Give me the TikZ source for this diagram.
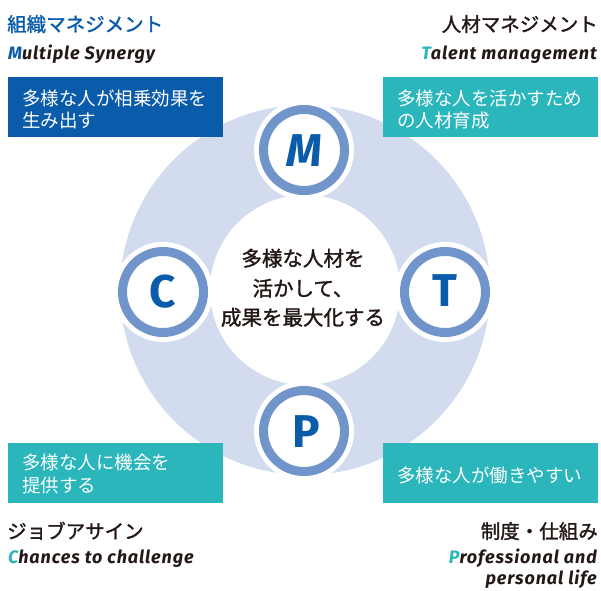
\documentclass[tikz,border=0pt]{standalone}
\usepackage{fontspec}
\setmainfont{Fira Sans}
\newfontfamily\jp{Noto Sans CJK JP}
\newfontfamily\jpm[FakeBold=1.5]{Noto Sans CJK JP}
\newfontfamily\en[LetterSpace=5]{Fira Sans}
\newfontfamily\lt{Fira Sans}
\definecolor{lav}{HTML}{D3DCEE}
\definecolor{ringc}{HTML}{7194CB}
\definecolor{dblue}{HTML}{0A5CAB}
\definecolor{tealc}{HTML}{2AB6BA}
\definecolor{ink}{HTML}{231815}
\begin{document}
\begin{tikzpicture}[x=1pt,y=-1pt,
  jpt/.style={font=\jpm\fontsize{19.5}{20}\selectfont, inner sep=0, text=ink},
  ent/.style={font=\en\bfseries\itshape\fontsize{18}{18}\selectfont, inner sep=0, text=ink},
  boxtxt/.style={font=\jp\fontsize{18.5}{19}\selectfont, inner sep=0, text=white, anchor=base west},
  ctr/.style={font=\jpm\fontsize{20.5}{21}\selectfont, inner sep=0, text=ink, anchor=base},
  halo/.style={circle, fill=white, minimum size=100pt, inner sep=0},
  ringnode/.style={circle, draw=ringc, line width=9pt, fill=white, minimum size=81pt, inner sep=0},
  letter/.style={font=\lt\bfseries\fontsize{46}{46}\selectfont, text=dblue, inner sep=0, anchor=base},
  bx/.style={inner sep=0, minimum width=215pt, minimum height=60pt, anchor=north west}
]
\useasboundingbox (0,0) rectangle (601,590);
\node[circle, fill=lav, minimum size=370pt, inner sep=0] (outer) at (305,290) {};
\node[circle, fill=white, minimum size=190pt, inner sep=0] (inner) at (305,290) {};

\foreach \n/\x/\y in {M/304/150, T/445/292, P/304/431, C/163/292}{
  \node[halo] (h\n) at (\x,\y) {};
  \node[ringnode] (r\n) at (\x,\y) {};
}
\node[letter] (lM) at (304,166) {\itshape M};
\node[letter] (lT) at (445,306) {T};
\node[letter] (lP) at (306,447.5) {P};
\node[letter] (lC) at (163,307) {C};

\node[bx, fill=dblue] (b1) at (8,77) {};
\node[bx, fill=tealc] (b2) at (383,77) {};
\node[bx, fill=tealc] (b3) at (8,443) {};
\node[bx, fill=tealc] (b4) at (383,443) {};

\node[boxtxt] (t1a) at (22,105.5) {多様な人が相乗効果を};
\node[boxtxt] (t1b) at (22,127) {生み出す};
\node[boxtxt] (t2a) at (397,105.5) {多様な人を活かすため};
\node[boxtxt] (t2b) at (397,127) {の人材育成};
\node[boxtxt] (t3a) at (22,469.5) {多様な人に機会を};
\node[boxtxt] (t3b) at (22,492) {提供する};
\node[boxtxt] (t4) at (397,482) {多様な人が働きやすい};

\node[jpt, anchor=base west, text=dblue] (h1) at (7,31.5) {組織マネジメント};
\node[ent, anchor=base west] (e1) at (8,59.5) {\textcolor{dblue}{M}ultiple Synergy};
\node[jpt, anchor=base east] (h2) at (598,31.5) {人材マネジメント};
\node[ent, anchor=base east] (e2) at (597,59.5) {\textcolor{tealc}{T}alent management};
\node[jpt, anchor=base west] (h3) at (7,538.5) {ジョブアサイン};
\node[ent, anchor=base west] (e3) at (8,563) {\textcolor{tealc}{C}hances to challenge};
\node[jpt, anchor=base east] (h4) at (598,538.5) {制度・仕組み};
\node[ent, anchor=base east] (e4a) at (597,563) {\textcolor{tealc}{P}rofessional and};
\node[ent, anchor=base east] (e4b) at (597,584) {personal life};

\node[ctr] (c1) at (303,266) {多様な人材を};
\node[ctr] (c2) at (303,296) {活かして、};
\node[ctr] (c3) at (303,325) {成果を最大化する};
\end{tikzpicture}
\end{document}
